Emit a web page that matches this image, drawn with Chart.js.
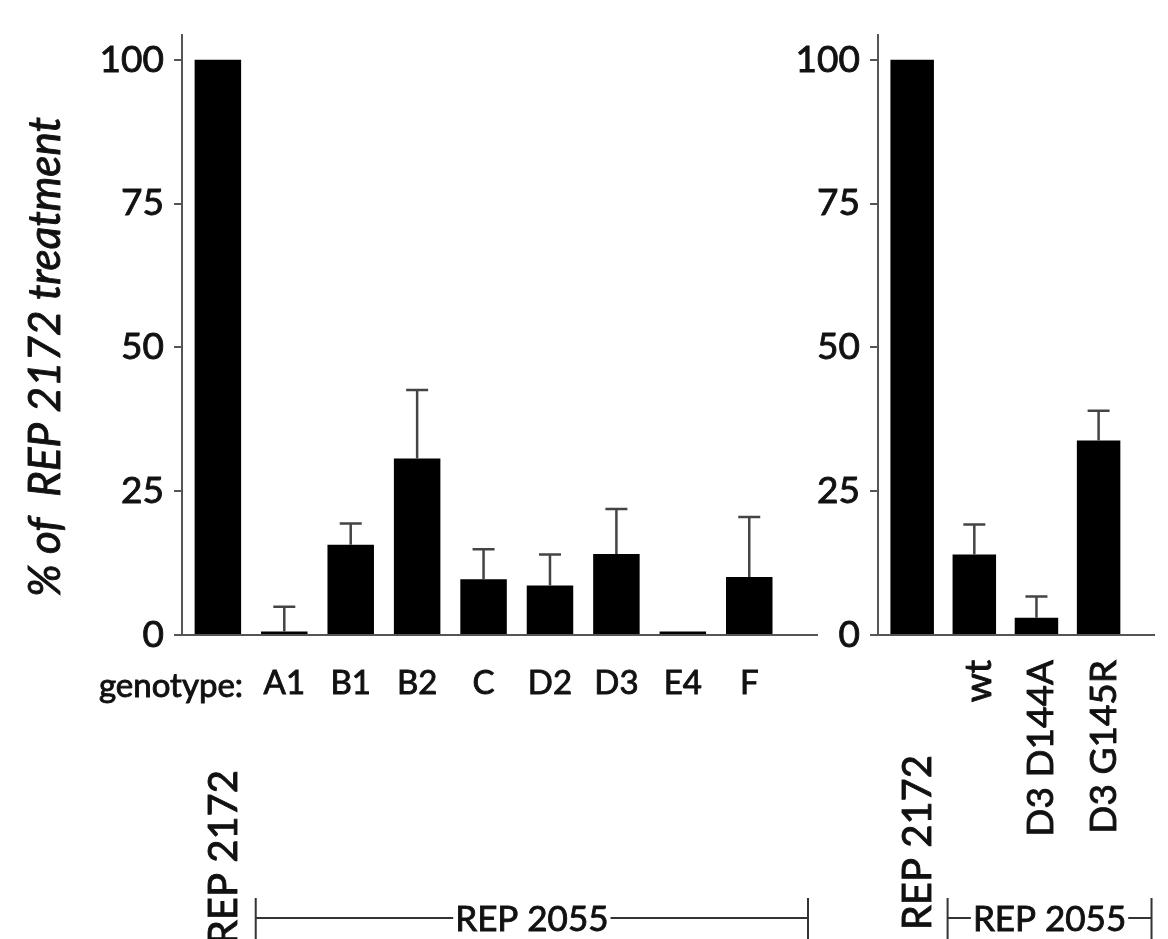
<!DOCTYPE html>
<html>
<head>
<meta charset="utf-8">
<script src="https://cdn.jsdelivr.net/npm/chart.js@4.4.1/dist/chart.umd.min.js"></script>
<style>
  html, body { margin: 0; padding: 0; background: #fff; }
  #wrap { position: relative; width: 1168px; height: 939px; overflow: hidden; }
  .panel { position: absolute; top: 0; height: 939px; }
  #left-panel { left: 0; width: 830px; }
  #right-panel { left: 780px; width: 388px; }
</style>
</head>
<body>
<div id="wrap">
  <div class="panel" id="left-panel"><canvas id="left-chart"></canvas></div>
  <div class="panel" id="right-panel"><canvas id="right-chart"></canvas></div>
</div>
<script>
// left panel: genotypes
const leftCategories = ['REP 2172', 'A1', 'B1', 'B2', 'C', 'D2', 'D3', 'E4', 'F'];
const leftTickLabels = ['', 'A1', 'B1', 'B2', 'C', 'D2', 'D3', 'E4', 'F'];
const leftValues = [100, 0.6, 15.7, 30.7, 9.7, 8.6, 14.1, 0.6, 10.1];
const leftErrors = [0, 4.3, 3.7, 11.9, 5.2, 5.4, 7.8, 0, 10.4];

// right panel: D3 mutants
const rightCategories = ['REP 2172', 'wt', 'D3 D144A', 'D3 G145R'];
const rightTickLabels = ['', 'wt', 'D3 D144A', 'D3 G145R'];
const rightValues = [100, 14.0, 3.0, 33.8];
const rightErrors = [0, 5.2, 3.7, 5.2];

const yTicks = [0, 25, 50, 75, 100];
const yTitle = '% of  REP 2172 treatment';
const controlLabel = 'REP 2172';
const groupLabel = 'REP 2055';
const genotypePrefix = 'genotype:';

const FONT = 'Lato, "Open Sans", sans-serif';
const INK = '#111';
const AXIS = '#555';
const STROKE = 0.9; // fake a medium weight

Chart.defaults.font.family = FONT;
Chart.defaults.color = INK;

function inkText(ctx, text, x, y) {
    ctx.fillText(text, x, y);
    ctx.save();
    ctx.lineWidth = STROKE;
    ctx.strokeStyle = INK;
    ctx.strokeText(text, x, y);
    ctx.restore();
}

function makeErrorBars(values, errors) {
    return {
        id: 'errorBars',
        afterDatasetsDraw(chart) {
            const { ctx } = chart;
            const y = chart.scales.y;
            const meta = chart.getDatasetMeta(0);
            ctx.save();
            ctx.strokeStyle = '#444';
            ctx.lineWidth = 2.5;
            errors.forEach((err, i) => {
                if (!err) return;
                const bar = meta.data[i];
                const top = y.getPixelForValue(values[i] + err);
                ctx.beginPath();
                ctx.moveTo(bar.x, bar.y);
                ctx.lineTo(bar.x, top);
                ctx.moveTo(bar.x - 11, top);
                ctx.lineTo(bar.x + 11, top);
                ctx.stroke();
            });
            ctx.restore();
        }
    };
}

// extra text: control label under first bar, group bracket, prefix, y title
function makePanelText(cfg) {
    return {
        id: 'panelText',
        afterDraw(chart) {
            const { ctx } = chart;
            const x = chart.scales.x;
            const step = x.getPixelForValue(1) - x.getPixelForValue(0);

            ctx.save();
            ctx.fillStyle = INK;
            ctx.strokeStyle = '#333';
            ctx.lineWidth = 2;

            // rotated control label
            ctx.save();
            ctx.font = '40px ' + FONT;
            ctx.translate(x.getPixelForValue(0) + 6, cfg.controlTop);
            ctx.rotate(-Math.PI / 2);
            ctx.textAlign = 'right';
            ctx.textBaseline = 'middle';
            inkText(ctx, controlLabel, 0, 0);
            ctx.restore();

            // group bracket
            const x0 = x.getPixelForValue(1) - 0.43 * step;
            const x1 = x.right - cfg.bracketInset;
            const by = 918;
            ctx.font = '35px ' + FONT;
            const w = ctx.measureText(groupLabel).width;
            const mid = (x0 + x1) / 2;
            ctx.beginPath();
            ctx.moveTo(x0, 898); ctx.lineTo(x0, 939);
            ctx.moveTo(x1, 898); ctx.lineTo(x1, 939);
            ctx.moveTo(x0, by); ctx.lineTo(mid - w / 2 - 2, by);
            ctx.moveTo(mid + w / 2 + 2, by); ctx.lineTo(x1, by);
            ctx.stroke();
            ctx.textAlign = 'center';
            ctx.textBaseline = 'middle';
            inkText(ctx, groupLabel, mid, by + 2);

            if (cfg.prefix) {
                ctx.font = cfg.tickSize + 'px ' + FONT;
                ctx.textAlign = 'right';
                ctx.textBaseline = 'alphabetic';
                inkText(ctx, cfg.prefix, x.getPixelForValue(1) - 0.62 * step, 697);
            }

            if (cfg.title) {
                ctx.font = 'italic 44px ' + FONT;
                ctx.translate(46, 357);
                ctx.rotate(-Math.PI / 2);
                ctx.textAlign = 'center';
                ctx.textBaseline = 'middle';
                inkText(ctx, cfg.title, 0, 0);
            }
            ctx.restore();
        }
    };
}

function buildPanel(canvasId, cfg) {
    return new Chart(document.getElementById(canvasId), {
        type: 'bar',
        data: {
            labels: cfg.categories,
            datasets: [{
                label: '% of REP 2172 treatment',
                data: cfg.values.map((v, i) => ({ x: i, y: v })),
                backgroundColor: '#000',
                borderWidth: 0,
                categoryPercentage: 1,
                barPercentage: 0.7
            }]
        },
        plugins: [makeErrorBars(cfg.values, cfg.errors), makePanelText(cfg)],
        options: {
            responsive: true,
            maintainAspectRatio: false,
            animation: false,
            layout: { autoPadding: false, padding: { top: 35, right: cfg.padRight, left: 0, bottom: 0 } },
            plugins: {
                legend: { display: false },
                tooltip: { enabled: false }
            },
            scales: {
                x: {
                    type: 'linear',
                    offset: false,
                    min: cfg.xMin,
                    max: cfg.xMax,
                    afterBuildTicks: s => { s.ticks = cfg.tickLabels.map((_, i) => ({ value: i })); },
                    afterFit: s => { s.height = 304; },
                    grid: { display: false, drawTicks: false },
                    border: { display: true, color: AXIS, width: 2 },
                    ticks: {
                        autoSkip: false,
                        maxRotation: cfg.rotation,
                        minRotation: cfg.rotation,
                        padding: cfg.tickPad,
                        labelOffset: cfg.labelOffset,
                        color: INK,
                        textStrokeColor: INK,
                        textStrokeWidth: STROKE,
                        font: { size: cfg.tickSize },
                        callback: v => cfg.tickLabels[v]
                    }
                },
                y: {
                    min: 0,
                    max: 104.3,
                    afterBuildTicks: s => { s.ticks = yTicks.map(v => ({ value: v })); },
                    afterFit: s => { s.width = cfg.yWidth; },
                    grid: { drawOnChartArea: false, drawTicks: true, tickLength: 8, color: AXIS, lineWidth: 2 },
                    border: { display: true, color: AXIS, width: 2 },
                    ticks: {
                        padding: 10,
                        color: INK,
                        textStrokeColor: INK,
                        textStrokeWidth: STROKE,
                        font: { size: 37 }
                    }
                }
            }
        }
    });
}

buildPanel('left-chart', {
    categories: leftCategories,
    tickLabels: leftTickLabels,
    values: leftValues,
    errors: leftErrors,
    xMin: -0.54, xMax: 9.02,
    yWidth: 182, padRight: 13,
    rotation: 0, tickPad: 29, tickSize: 33, labelOffset: 0,
    controlTop: 770, bracketInset: 9,
    prefix: genotypePrefix,
    title: yTitle
});

buildPanel('right-chart', {
    categories: rightCategories,
    tickLabels: rightTickLabels,
    values: rightValues,
    errors: rightErrors,
    xMin: -0.55, xMax: 3.9,
    yWidth: 98, padRight: 0,
    rotation: 90, tickPad: 25, tickSize: 37, labelOffset: 5,
    controlTop: 755, bracketInset: 3,
    prefix: null,
    title: null
});
</script>
</body>
</html>
